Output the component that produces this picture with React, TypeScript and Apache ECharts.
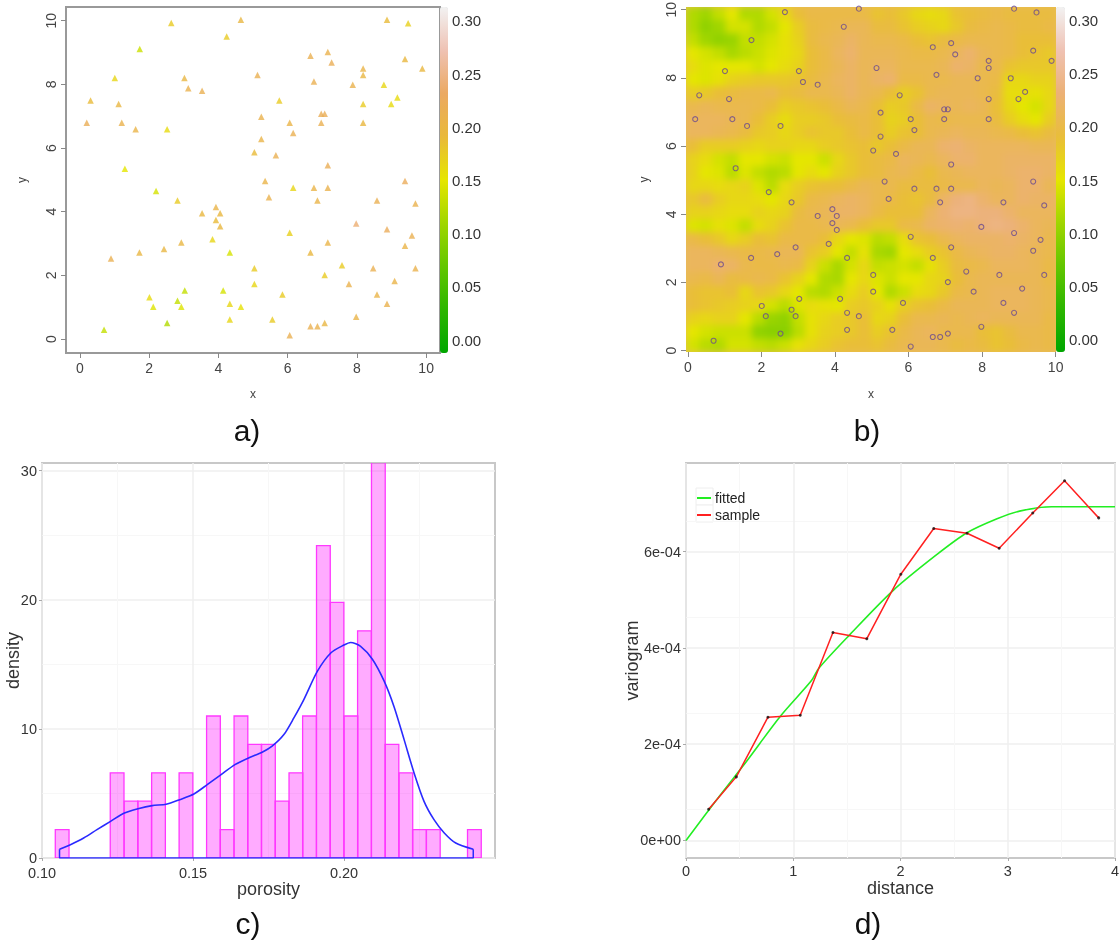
import React, { useEffect, useRef } from "react";
import * as echarts from "echarts";

const FONT = "Liberation Sans";

// Well locations and porosity (panels a and b)
const wellX = [2.64,4.65,4.24,8.87,9.48,1.73,6.66,7.16,7.27,8.18,8.18,9.39,9.89,5.13,6.76,7.88,8.78,1.01,3.02,3.13,3.53,0.31,1.12,5.76,9.17,8.18,8.99,5.24,6.97,7.07,0.2,1.21,1.61,2.52,6.06,6.97,8.18,6.16,5.24,5.04,5.66,7.16,1.3,5.35,9.39,6.76,6.16,7.16,2.2,5.46,2.82,6.86,8.58,9.69,3.93,3.53,4.05,3.93,4.05,3.83,7.98,8.87,9.59,6.06,7.16,2.93,9.39,2.43,1.72,4.33,6.66,0.9,5.04,8.47,9.69,7.57,7.07,9.09,5.04,7.77,3.03,4.14,5.85,8.58,2.01,2.82,4.33,8.87,2.12,2.93,4.65,7.98,4.33,5.56,2.52,7.07,6.66,6.86,0.7,6.06];
const wellY = [9.93,10.03,9.5,10.03,9.92,9.11,8.9,9.02,8.69,8.5,8.29,8.8,8.5,8.29,8.09,7.99,7.99,8.2,8.2,7.88,7.8,7.49,7.38,7.49,7.59,7.38,7.38,6.98,7.08,7.08,6.79,6.79,6.59,6.59,6.79,6.79,6.79,6.47,6.28,5.87,5.77,5.46,5.35,4.96,4.96,4.75,4.75,4.75,4.65,4.45,4.35,4.35,4.35,4.26,4.15,3.95,3.95,3.74,3.54,3.13,3.63,3.45,3.25,3.34,3.03,3.03,2.93,2.83,2.72,2.72,2.72,2.53,2.22,2.22,2.22,2.32,2.01,1.82,1.73,1.73,1.52,1.52,1.4,1.4,1.31,1.2,1.11,1.11,1.01,1.01,1.01,0.7,0.61,0.61,0.5,0.5,0.4,0.4,0.29,0.12];
const wellPorosity = [0.175,0.2,0.175,0.19,0.17,0.135,0.215,0.21,0.22,0.205,0.2,0.195,0.195,0.215,0.215,0.21,0.165,0.165,0.2,0.21,0.215,0.19,0.2,0.175,0.16,0.175,0.16,0.21,0.22,0.22,0.22,0.21,0.205,0.16,0.205,0.215,0.195,0.215,0.205,0.19,0.215,0.22,0.15,0.205,0.225,0.205,0.165,0.21,0.14,0.21,0.175,0.205,0.215,0.21,0.205,0.195,0.195,0.19,0.195,0.165,0.24,0.225,0.215,0.17,0.205,0.2,0.205,0.2,0.2,0.14,0.195,0.215,0.175,0.215,0.21,0.175,0.175,0.205,0.165,0.21,0.13,0.14,0.175,0.205,0.16,0.13,0.165,0.21,0.145,0.145,0.155,0.205,0.165,0.175,0.12,0.2,0.215,0.21,0.13,0.215];

// Simulated porosity field (panel b), rows from top to bottom
const fieldRows = [
[.12,.11,.13,.15,.12,.12,.14,.165,.19,.20,.20,.20,.20,.20,.185,.19,.18,.165,.16,.165,.185,.19,.195,.20,.195,.195,.195,.195],
[.12,.10,.11,.14,.14,.12,.13,.15,.175,.195,.20,.205,.21,.21,.195,.195,.185,.175,.17,.165,.18,.195,.20,.205,.20,.195,.195,.20],
[.13,.11,.10,.105,.13,.13,.14,.155,.17,.195,.205,.21,.22,.21,.205,.205,.20,.19,.185,.195,.20,.205,.205,.205,.20,.19,.19,.19],
[.15,.14,.13,.115,.125,.135,.145,.155,.165,.19,.20,.215,.225,.21,.21,.21,.205,.20,.20,.205,.215,.225,.21,.205,.20,.19,.185,.18],
[.16,.145,.15,.15,.15,.14,.15,.16,.17,.19,.20,.21,.22,.21,.215,.215,.205,.205,.205,.21,.225,.22,.205,.205,.185,.18,.18,.18],
[.15,.145,.155,.17,.175,.18,.18,.18,.185,.195,.205,.215,.22,.21,.22,.225,.20,.20,.205,.205,.21,.21,.205,.20,.165,.165,.17,.17],
[.175,.18,.19,.195,.20,.20,.205,.19,.195,.205,.205,.21,.22,.21,.205,.19,.175,.185,.205,.21,.21,.21,.205,.195,.16,.16,.155,.165],
[.205,.21,.205,.205,.205,.20,.19,.175,.18,.185,.19,.20,.21,.205,.19,.175,.18,.20,.22,.215,.21,.215,.21,.19,.165,.15,.14,.165],
[.215,.215,.215,.21,.205,.19,.175,.16,.175,.175,.18,.19,.195,.20,.19,.17,.175,.19,.205,.20,.205,.205,.205,.195,.175,.16,.15,.175],
[.215,.215,.21,.205,.195,.18,.175,.165,.175,.185,.18,.18,.19,.20,.19,.175,.185,.19,.205,.21,.215,.21,.21,.205,.20,.19,.185,.195],
[.19,.175,.175,.175,.17,.165,.17,.17,.165,.165,.175,.18,.185,.19,.18,.19,.20,.21,.21,.225,.23,.22,.215,.215,.215,.215,.21,.21],
[.17,.16,.14,.13,.15,.15,.14,.135,.15,.15,.135,.165,.18,.19,.195,.20,.215,.21,.205,.215,.225,.225,.215,.215,.22,.22,.22,.22],
[.17,.15,.145,.125,.145,.13,.12,.125,.15,.16,.15,.17,.18,.19,.195,.205,.21,.20,.19,.205,.21,.215,.215,.215,.22,.225,.225,.22],
[.165,.165,.16,.165,.17,.145,.125,.16,.175,.185,.19,.19,.20,.21,.205,.205,.195,.195,.195,.20,.205,.205,.215,.21,.215,.225,.225,.21],
[.18,.195,.175,.165,.165,.16,.15,.165,.18,.20,.205,.215,.22,.215,.205,.20,.19,.185,.195,.22,.235,.24,.225,.215,.215,.225,.22,.22],
[.17,.17,.165,.16,.16,.17,.165,.17,.195,.205,.21,.22,.22,.215,.20,.19,.19,.19,.215,.23,.24,.24,.235,.235,.225,.215,.215,.215],
[.145,.14,.155,.145,.13,.16,.17,.185,.20,.20,.205,.21,.205,.19,.18,.18,.20,.205,.22,.225,.23,.225,.235,.24,.235,.225,.215,.21],
[.20,.19,.18,.165,.175,.19,.185,.20,.20,.20,.19,.165,.15,.145,.125,.13,.16,.185,.19,.205,.215,.22,.22,.22,.225,.22,.215,.205],
[.215,.215,.21,.205,.20,.20,.205,.21,.21,.185,.175,.15,.13,.155,.115,.11,.15,.16,.175,.185,.20,.21,.215,.22,.22,.215,.21,.205],
[.215,.215,.225,.22,.205,.20,.20,.205,.20,.17,.135,.115,.14,.165,.13,.135,.14,.13,.155,.175,.195,.20,.205,.215,.215,.215,.21,.20],
[.205,.20,.21,.195,.20,.205,.20,.185,.17,.15,.12,.115,.15,.165,.145,.135,.15,.15,.165,.17,.19,.205,.21,.21,.21,.21,.21,.20],
[.19,.185,.185,.19,.165,.185,.18,.165,.15,.125,.12,.135,.16,.175,.15,.12,.135,.16,.165,.18,.20,.205,.21,.215,.215,.215,.21,.205],
[.19,.185,.18,.175,.17,.165,.14,.125,.145,.16,.155,.15,.175,.18,.17,.155,.175,.185,.19,.20,.21,.21,.21,.215,.215,.215,.21,.205],
[.17,.165,.17,.17,.15,.125,.105,.10,.13,.155,.165,.175,.18,.19,.165,.17,.19,.205,.205,.21,.205,.21,.215,.21,.21,.21,.21,.20],
[.15,.14,.135,.135,.135,.10,.095,.095,.125,.155,.17,.175,.18,.19,.175,.185,.20,.21,.215,.205,.205,.205,.19,.185,.195,.205,.205,.20],
[.14,.125,.12,.14,.14,.13,.125,.135,.155,.165,.175,.185,.19,.19,.185,.195,.205,.21,.21,.205,.195,.20,.195,.185,.19,.20,.205,.20],
];

// Histogram (panel c)
const binLeft = [.1044,.1226,.1272,.1317,.1363,.1454,.1545,.1590,.1636,.1681,.1727,.1772,.1818,.1863,.1909,.1954,.2000,.2045,.2091,.2136,.2182,.2227,.2273,.2409];
const binDensity = [2.2,6.6,4.4,4.4,6.6,6.6,11,2.2,11,8.8,8.8,4.4,6.6,11,24.2,19.8,11,17.6,33,8.8,6.6,2.2,2.2,2.2];
const binWidth = 0.00455;
const densityX = [.1058,.1094,.1138,.1182,.1227,.1273,.1318,.1365,.1411,.1456,.1503,.1547,.1593,.1639,.1684,.1729,.1762,.1801,.1834,.1867,.1912,.1957,.2,.2022,.2055,.2094,.2133,.2166,.2199,.2232,.2265,.2298,.2332,.237,.2428];
const densityY = [.67,1.03,1.55,2.2,2.84,3.49,3.82,4.06,4.16,4.52,4.96,5.68,6.46,7.23,7.75,8.19,8.66,9.56,10.85,12.27,14.47,15.9,16.5,16.7,16.4,15.4,13.7,11.7,9.17,6.59,4.39,2.97,1.94,1.16,.67];
const densityBaseX = [.1058,.1058,.2428,.2428];
const densityBaseY = [.67,0,0,.67];

// Variogram (panel d)
const sampleDist = [.211,.469,.764,1.065,1.37,1.686,2.003,2.31,2.62,2.92,3.233,3.53,3.848];
const sampleGamma = [6.48e-5,1.32e-4,2.56e-4,2.6e-4,4.32e-4,4.19e-4,5.53e-4,6.48e-4,6.38e-4,6.07e-4,6.8e-4,7.47e-4,6.7e-4];
const fittedDist = [0,.32,.56,.88,1.17,1.24,1.53,1.93,2.34,2.62,2.9,3.11,3.41,4];
const fittedGamma = [0,9.45e-5,1.63e-4,2.58e-4,3.32e-4,3.58e-4,4.28e-4,5.19e-4,5.94e-4,6.39e-4,6.68e-4,6.84e-4,6.93e-4,6.93e-4];

const mapTicks = [0,2,4,6,8,10];
const barTicks = [0,.05,.1,.15,.2,.25,.3];
const terrainStops = ["#00A600","#2DB600","#63C600","#A0D600","#E6E600","#E9BD3A","#ECB176","#EFC2B3","#F2F2F2"];
const wellStops = ["#00A600","#2DB600","#63C600","#A0D600","#E6E600","#E9B93A","#EBA962","#EFC2B3","#F2F2F2"];

const zip = (...a: number[][]) => a[0].map((_, i) => a.map((c) => c[i]));

function mapAxis(gridIndex: number, name: string, min: number, max: number, vertical: boolean, nameGap: number) {
  return {
    type: "value", gridIndex, min, max, name, nameLocation: "middle", nameGap, nameMoveOverlap: false,
    nameRotate: vertical ? 90 : 0,
    nameTextStyle: { fontFamily: FONT, fontSize: 12, color: "#444" },
    splitLine: { show: false },
    axisLine: { show: false, onZero: false },
    axisTick: { show: true, length: 5, customValues: mapTicks, lineStyle: { color: "#888" } },
    axisLabel: { customValues: mapTicks, rotate: vertical ? 90 : 0, fontFamily: FONT, fontSize: 14, color: "#444", margin: 8 },
  };
}

function barAxes(gridIndex: number) {
  return {
    x: { type: "value", gridIndex, show: false, min: 0, max: 1 },
    y: {
      type: "value", gridIndex, position: "right", min: -0.012, max: 0.313,
      axisLine: { show: false, onZero: false }, axisTick: { show: false }, splitLine: { show: false },
      axisLabel: { customValues: barTicks, formatter: (v: number) => v.toFixed(2), fontFamily: FONT, fontSize: 15, color: "#333", margin: 4 },
    },
  };
}

function ggAxis(gridIndex: number, name: string, min: number, max: number, interval: number, ticks: number[], fmt: (v: number) => string, nameGap: number, vertical: boolean, labelMargin: number) {
  return {
    type: "value", gridIndex, min, max, interval, name, nameLocation: "middle", nameGap, nameMoveOverlap: false,
    nameRotate: vertical ? 90 : 0,
    nameTextStyle: { fontFamily: FONT, fontSize: 18, color: "#333" },
    axisLine: { show: false, onZero: false },
    axisTick: { show: true, length: 3, customValues: ticks, lineStyle: { color: "#aaa" } },
    axisLabel: { customValues: ticks, formatter: fmt, fontFamily: FONT, fontSize: 14.5, color: "#333", margin: labelMargin },
    splitLine: { show: true, lineStyle: { color: "#efefef", width: 1.5 } },
    minorTick: { show: false, splitNumber: 2 },
    minorSplitLine: { show: true, lineStyle: { color: "#f7f7f7", width: 1 } },
  };
}

function caption(text: string, x: number, y: number) {
  return { type: "text", x, y, style: { text, fontFamily: FONT, fontSize: 30, fill: "#111", textAlign: "center", textVerticalAlign: "middle" } };
}

function legendKey(x: number, y: number) {
  return { type: "rect", shape: { x, y, width: 17, height: 17 }, style: { fill: "#fff", stroke: "#eeeeee", lineWidth: 1 }, z: 0 };
}

const NO_BOUNDS = { outerBoundsMode: "none" };

export default function App() {
  const mainRef = useRef<HTMLDivElement>(null);
  const fieldRef = useRef<HTMLDivElement>(null);
  useEffect(() => {
    // The simulated field sits in its own softly blurred chart, under the main one
    const fieldChart = echarts.init(fieldRef.current!, undefined, { renderer: "svg" });
    const field: number[][] = [];
    fieldRows.forEach((row, r) => row.forEach((v, c) => field.push([c, fieldRows.length - 1 - r, v])));
    fieldChart.setOption({
      animation: false,
      grid: { left: 12, top: 12, width: 370, height: 345, ...NO_BOUNDS },
      xAxis: { type: "category", data: fieldRows[0].map((_, i) => String(i)), show: false },
      yAxis: { type: "category", data: fieldRows.map((_, i) => String(i)), show: false },
      visualMap: { type: "continuous", show: false, dimension: 2, min: -0.012, max: 0.313, inRange: { color: terrainStops } },
      series: [{ name: "field", type: "heatmap", data: field, silent: true, emphasis: { disabled: true } }],
    });

    const chart = echarts.init(mainRef.current!, undefined, { renderer: "svg" });
    const wells = zip(wellX, wellY, wellPorosity);
    const barA = barAxes(1);
    const barB = barAxes(3);
    const fmtInt = (v: number) => String(v);
    const fmtSci = (v: number) => (v === 0 ? "0e+00" : `${Math.round(v * 1e4)}e-04`);
    chart.setOption({
      animation: false,
      grid: [
        { left: 66, top: 7, width: 374, height: 346, show: true, borderColor: "#999", borderWidth: 2, ...NO_BOUNDS },
        { left: 440, top: 7, width: 8, height: 346, ...NO_BOUNDS },
        { left: 686, top: 7, width: 370, height: 345, ...NO_BOUNDS },
        { left: 1056, top: 7, width: 9, height: 345, ...NO_BOUNDS },
        { left: 42, top: 463, width: 453, height: 395, show: true, borderColor: "#c8c8c8", borderWidth: 2, ...NO_BOUNDS },
        { left: 686, top: 463, width: 429, height: 395, show: true, borderColor: "#c8c8c8", borderWidth: 2, ...NO_BOUNDS },
      ],
      xAxis: [
        mapAxis(0, "x", -0.4, 10.4, false, 35),
        barA.x,
        mapAxis(2, "x", -0.05, 10.01, false, 36),
        barB.x,
        ggAxis(4, "porosity", 0.1, 0.25, 0.05, [.1,.15,.2], (v: number) => v.toFixed(2), 22, false, 7.5),
        ggAxis(5, "distance", 0, 4, 1, [0,1,2,3,4], fmtInt, 21, false, 5),
      ],
      yAxis: [
        mapAxis(0, "y", -0.44, 10.43, true, 38),
        barA.y,
        mapAxis(2, "y", -0.04, 10.08, true, 36),
        barB.y,
        ggAxis(4, "density", 0, 30.6, 10, [0,10,20,30], fmtInt, 20, true, 5),
        ggAxis(5, "variogram", -3.65e-5, 7.84e-4, 2e-4, [0,2e-4,4e-4,6e-4], fmtSci, 45, true, 5),
      ],
      visualMap: [
        { type: "continuous", seriesIndex: 0, dimension: 2, min: -0.012, max: 0.313, left: 440, top: 7, itemWidth: 8, itemHeight: 346, padding: 0, calculable: false, hoverLink: false, inRange: { color: wellStops } },
        { type: "continuous", seriesIndex: 1, dimension: 2, min: -0.012, max: 0.313, left: 1056, top: 7, itemWidth: 9, itemHeight: 345, padding: 0, calculable: false, hoverLink: false, inRange: { color: terrainStops } },
      ],
      legend: {
        data: ["fitted", "sample"], left: 697, top: 491, orient: "vertical", icon: "rect", itemWidth: 14, itemHeight: 2, itemGap: 3, padding: 0, selectedMode: false,
        textStyle: { fontFamily: FONT, fontSize: 14, color: "#222", padding: [0, 0, 0, -1] },
      },
      series: [
        { name: "wells", type: "scatter", xAxisIndex: 0, yAxisIndex: 0, data: wells, symbol: "triangle", symbolSize: 6.5, silent: true },
        { name: "fieldScale", type: "scatter", xAxisIndex: 2, yAxisIndex: 2, data: [], silent: true },
        { name: "wellsOverlay", type: "scatter", xAxisIndex: 2, yAxisIndex: 2, data: wells.map((w) => [w[0], w[1]]), symbol: "circle", symbolSize: 5, silent: true, z: 5, itemStyle: { color: "rgba(0,0,0,0)", borderColor: "#6a4a90", borderWidth: 1.1 } },
        {
          name: "histogram", type: "custom", xAxisIndex: 4, yAxisIndex: 4, clip: true, silent: true,
          data: binLeft.map((l, i) => [l, l + binWidth, binDensity[i]]),
          encode: { x: [0, 1], y: 2 },
          renderItem: (_: any, api: any) => {
            const a = api.coord([api.value(0), api.value(2)]);
            const b = api.coord([api.value(1), 0]);
            return { type: "rect", shape: { x: a[0], y: a[1], width: b[0] - a[0], height: b[1] - a[1] }, style: { fill: "rgba(255,0,255,0.33)", stroke: "#ff38ff", lineWidth: 1.3 } };
          },
        },
        { name: "densityBase", type: "line", xAxisIndex: 4, yAxisIndex: 4, data: zip(densityBaseX, densityBaseY), showSymbol: false, silent: true, z: 4, lineStyle: { color: "#2a2aff", width: 1.5 } },
        { name: "density", type: "line", xAxisIndex: 4, yAxisIndex: 4, data: zip(densityX, densityY), showSymbol: false, smooth: 0.25, silent: true, z: 4, lineStyle: { color: "#2a2aff", width: 1.6 } },
        { name: "fitted", type: "line", xAxisIndex: 5, yAxisIndex: 5, data: zip(fittedDist, fittedGamma), showSymbol: false, smooth: 0.3, silent: true, z: 3, itemStyle: { color: "#22ee22" }, lineStyle: { color: "#22ee22", width: 1.6 } },
        { name: "sample", type: "line", xAxisIndex: 5, yAxisIndex: 5, data: zip(sampleDist, sampleGamma), showSymbol: false, silent: true, z: 4, itemStyle: { color: "#ff2020" }, lineStyle: { color: "#ff2020", width: 1.5 } },
        { name: "samplePoints", type: "scatter", xAxisIndex: 5, yAxisIndex: 5, data: zip(sampleDist, sampleGamma), symbolSize: 3, silent: true, z: 5, itemStyle: { color: "#111" } },
      ],
      graphic: [
        caption("a)", 247, 430),
        caption("b)", 867, 430),
        caption("c)", 248, 923),
        caption("d)", 868, 923),
        legendKey(696, 488),
        legendKey(696, 505),
      ],
    });
    return () => {
      chart.dispose();
      fieldChart.dispose();
    };
  }, []);
  return (
    <div style={{ position: "fixed", left: 0, top: 0, width: 1119, height: 941 }}>
      <div style={{ position: "absolute", left: 686, top: 7, width: 370, height: 345, overflow: "hidden" }}>
        <div ref={fieldRef} style={{ position: "absolute", left: -12, top: -12, width: 394, height: 369, background: "#E8BC58", filter: "blur(3.5px)" }} />
      </div>
      <div ref={mainRef} style={{ position: "absolute", left: 0, top: 0, width: 1119, height: 941 }} />
    </div>
  );
}
